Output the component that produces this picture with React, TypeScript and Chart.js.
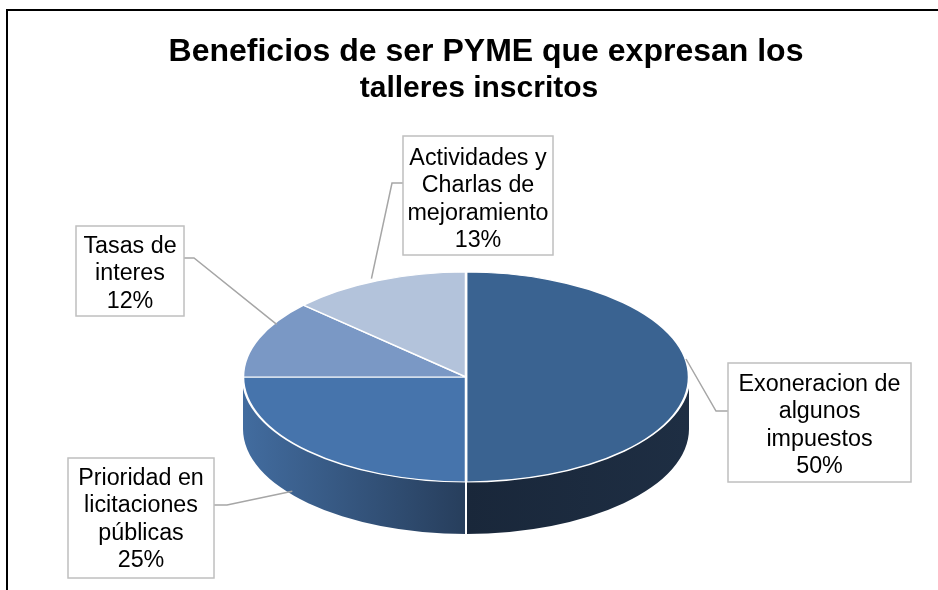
import React, { useEffect, useRef } from "react";
import { Chart, registerables } from "chart.js";

Chart.register(...registerables);

// ---- data ----
const titleLines = ["Beneficios de ser PYME que expresan los", "talleres inscritos"];
const categories = [
  "Exoneracion de algunos impuestos",
  "Prioridad en licitaciones públicas",
  "Tasas de interes",
  "Actividades y Charlas de mejoramiento",
];
const labelLines = [
  ["Exoneracion de", "algunos", "impuestos"],
  ["Prioridad en", "licitaciones", "públicas"],
  ["Tasas de", "interes"],
  ["Actividades y", "Charlas de", "mejoramiento"],
];
const values = [50, 25, 12, 13];

// ---- style ----
const topColors = ["#3A6391", "#4674AC", "#7A98C5", "#B3C3DB"];
const sideColors = [
  ["#19273A", "#1E2E43"],
  ["#426C9F", "#273E5C"],
  ["#3D5C85", "#3D5C85"],
  ["#5A7CA8", "#5A7CA8"],
];
const W = 938;
const H = 590;
const CX = 466;
const CY = 377;
const RX = 223;
const RY = 105;
const K = RY / RX;
const DEPTH = 52;
const FONT = "'Liberation Sans', Arial, Helvetica, sans-serif";
const titleStyle = [
  { size: 32, x: 486, y: 61 },
  { size: 30, x: 479, y: 97 },
];
const labelLayout = [
  { x: 728, y: 363, w: 183, h: 119, side: "left", lineY: 411, elbowX: 716, ofs: [-3, -18], base: 391 },
  { x: 68, y: 458, w: 146, h: 120, side: "right", lineY: 505, elbowX: 227, ofs: [-16, 40], base: 485 },
  { x: 76, y: 226, w: 108, h: 90, side: "right", lineY: 258, elbowX: 194, ofs: [18, -14], base: 253 },
  { x: 403, y: 136, w: 150, h: 119, side: "left", lineY: 183, elbowX: 392, ofs: [-6, -2], base: 165 },
];
const LINE_H = 27.3;
const LABEL_SIZE = 23.3;

const pie3d = {
  id: "pie3d",
  beforeDatasetsDraw(chart: any) {
    const ctx = chart.ctx as CanvasRenderingContext2D;
    const meta = chart.getDatasetMeta(0);
    let cy = CY;
    ctx.save();
    meta.data.forEach((el: any, i: number) => {
      const { x, y, startAngle, endAngle, outerRadius } = el.getProps(
        ["x", "y", "startAngle", "endAngle", "outerRadius"],
        true
      );
      cy = y;
      const a = Math.max(startAngle, 0);
      const b = Math.min(endAngle, Math.PI);
      if (b <= a) return;
      const ry = outerRadius * K;
      const x1 = x + outerRadius * Math.cos(a);
      const x2 = x + outerRadius * Math.cos(b);
      const g = ctx.createLinearGradient(Math.min(x1, x2), 0, Math.max(x1, x2), 0);
      g.addColorStop(0, sideColors[i][0]);
      g.addColorStop(1, sideColors[i][1]);
      ctx.fillStyle = g;
      ctx.beginPath();
      ctx.ellipse(x, y, outerRadius, ry, 0, a, b, false);
      ctx.ellipse(x, y + DEPTH, outerRadius, ry, 0, b, a, true);
      ctx.closePath();
      ctx.fill();
    });
    // seams between side faces
    ctx.strokeStyle = "#FFFFFF";
    ctx.lineWidth = 2;
    meta.data.forEach((el: any) => {
      const { x, y, endAngle, outerRadius } = el.getProps(["x", "y", "endAngle", "outerRadius"], true);
      if (endAngle > 0 && endAngle < Math.PI) {
        const px = x + outerRadius * Math.cos(endAngle);
        const py = y + outerRadius * K * Math.sin(endAngle);
        ctx.beginPath();
        ctx.moveTo(px, py);
        ctx.lineTo(px, py + DEPTH);
        ctx.stroke();
      }
    });
    ctx.restore();
    ctx.save();
    ctx.translate(0, cy);
    ctx.scale(1, K);
    ctx.translate(0, -cy);
  },
  afterDatasetsDraw(chart: any) {
    const ctx = chart.ctx as CanvasRenderingContext2D;
    ctx.restore();
    const meta = chart.getDatasetMeta(0);
    const total = values.reduce((s, v) => s + v, 0);

    // frame
    ctx.save();
    ctx.fillStyle = "#000000";
    ctx.fillRect(6, 9, W, 2);
    ctx.fillRect(6, 9, 2, H);

    // title
    ctx.fillStyle = "#000000";
    ctx.textAlign = "center";
    ctx.textBaseline = "alphabetic";
    titleLines.forEach((t, j) => {
      const s = titleStyle[j];
      ctx.font = `bold ${s.size}px ${FONT}`;
      ctx.fillText(t, s.x, s.y);
    });

    // labels
    meta.data.forEach((el: any, i: number) => {
      const { x, y, startAngle, endAngle, outerRadius } = el.getProps(
        ["x", "y", "startAngle", "endAngle", "outerRadius"],
        true
      );
      const L = labelLayout[i];
      const mid = (startAngle + endAngle) / 2;
      const ax = x + outerRadius * Math.cos(mid) + L.ofs[0];
      const ay = y + outerRadius * K * Math.sin(mid) + L.ofs[1];
      const bx = L.side === "left" ? L.x : L.x + L.w;
      ctx.strokeStyle = "#A6A6A6";
      ctx.lineWidth = 1.5;
      ctx.beginPath();
      ctx.moveTo(bx, L.lineY);
      ctx.lineTo(L.elbowX, L.lineY);
      ctx.lineTo(ax, ay);
      ctx.stroke();

      ctx.fillStyle = "#FFFFFF";
      ctx.fillRect(L.x, L.y, L.w, L.h);
      ctx.strokeStyle = "#BFBFBF";
      ctx.lineWidth = 1.5;
      ctx.strokeRect(L.x, L.y, L.w, L.h);

      const lines = [...labelLines[i], `${Math.round((values[i] / total) * 100)}%`];
      ctx.fillStyle = "#000000";
      ctx.font = `${LABEL_SIZE}px ${FONT}`;
      ctx.textAlign = "center";
      ctx.textBaseline = "alphabetic";
      lines.forEach((t, j) => {
        ctx.fillText(t, L.x + L.w / 2, L.base + j * LINE_H);
      });
    });
    ctx.restore();
  },
};

export default function App() {
  const ref = useRef<HTMLCanvasElement | null>(null);
  useEffect(() => {
    document.body.style.margin = "0";
    if (!ref.current) return;
    const chart = new Chart(ref.current, {
      type: "pie",
      data: {
        labels: categories,
        datasets: [
          {
            data: values,
            backgroundColor: topColors,
            borderColor: "#FFFFFF",
            borderWidth: 2.5,
            radius: RX,
            clip: false,
          } as any,
        ],
      },
      options: {
        responsive: false,
        animation: false,
        events: [],
        layout: {
          padding: { left: CX - RX, right: W - (CX + RX), top: 2 * CY - H, bottom: 0 },
        },
        plugins: {
          legend: { display: false },
          title: { display: false },
          tooltip: { enabled: false },
        },
      },
      plugins: [pie3d],
    });
    return () => chart.destroy();
  }, []);
  return (
    <div style={{ width: W, height: H, position: "relative", background: "#FFFFFF" }}>
      <canvas ref={ref} width={W} height={H} style={{ display: "block" }} />
    </div>
  );
}
